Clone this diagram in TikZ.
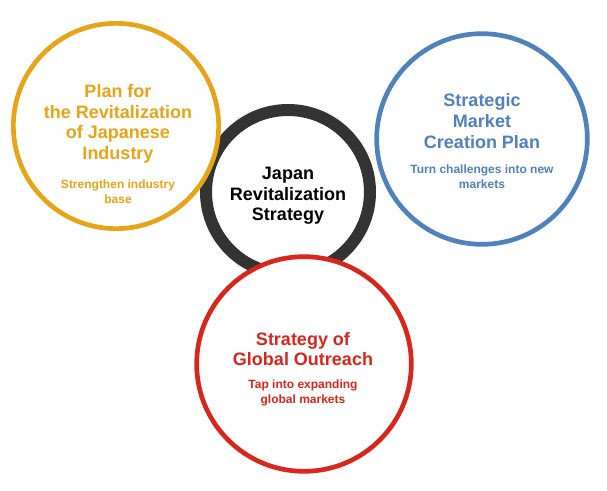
\documentclass[tikz,border=0pt]{standalone}
\usepackage{fontspec}
\setmainfont{Liberation Sans}
\definecolor{myorange}{RGB}{232,163,23}
\definecolor{myblue}{RGB}{79,129,189}
\definecolor{myred}{RGB}{217,38,28}
\definecolor{mygray}{RGB}{51,51,51}
\begin{document}
\begin{tikzpicture}[x=0.75pt,y=-0.75pt,
  ring/.style={circle,draw,fill=white,line width=3.5pt,inner sep=0pt},
  title/.style={font=\bfseries\fontsize{13.5}{15.5}\selectfont,align=center},
  sub/.style={font=\bfseries\fontsize{9}{11}\selectfont,align=center}]
\useasboundingbox (0,0) rectangle (607,491);
%Mitte
\node[ring,draw=mygray,line width=9pt,minimum size=123pt] (core) at (288,192) {};
\node[title,text=black] (coret) at (288,196) {Japan\\Revitalization\\Strategy};
%Kreise aussen
\node[ring,draw=myorange,minimum size=154pt] (plan) at (116,126) {};
\node[title,text=myorange] (plant) at (118,124) {Plan for\\the Revitalization\\of Japanese\\Industry};
\node[sub,text=myorange] (plans) at (118,192) {Strengthen industry\\base};
\node[ring,draw=myblue,minimum size=158pt] (market) at (482,139) {};
\node[title,text=myblue] (markett) at (482,121) {Strategic\\Market\\Creation Plan};
\node[sub,text=myblue] (markets) at (482,177) {Turn challenges into new\\markets};
\node[ring,draw=myred,minimum size=161pt] (global) at (304,364) {};
\node[title,text=myred] (globalt) at (303,349) {Strategy of\\Global Outreach};
\node[sub,text=myred] (globals) at (303,393) {Tap into expanding\\global markets};
\end{tikzpicture}
\end{document}
